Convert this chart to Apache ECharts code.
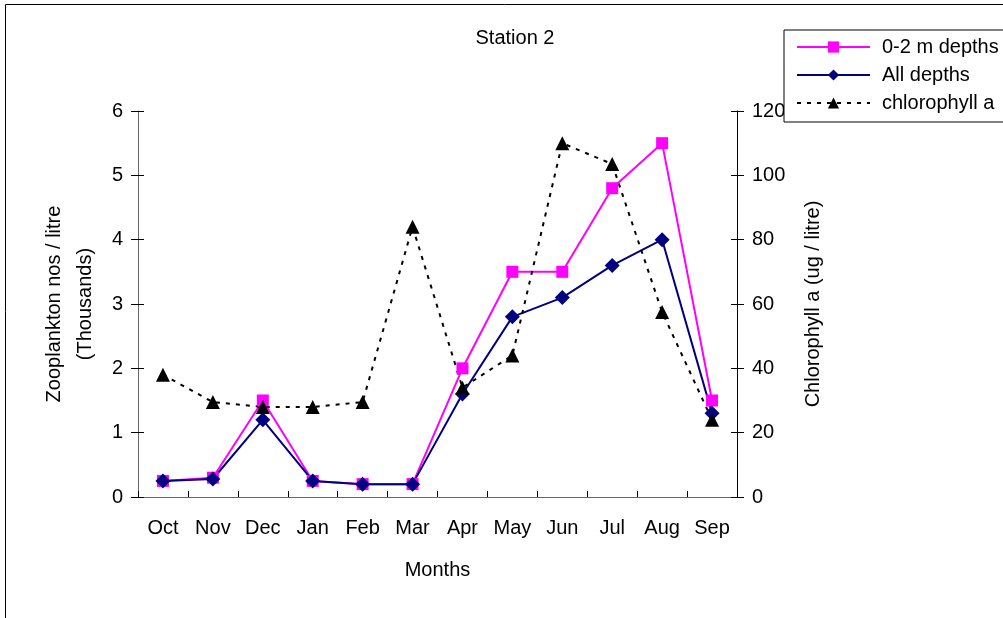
<!DOCTYPE html>
<html><head><meta charset="utf-8">
<script src="https://cdn.jsdelivr.net/npm/echarts@6/dist/echarts.min.js"></script>
<style>html,body{margin:0;padding:0;background:#fff}#c{width:1003px;height:618px}</style>
</head><body><div id="c"></div>
<script>
var months = ['Oct','Nov','Dec','Jan','Feb','Mar','Apr','May','Jun','Jul','Aug','Sep'];
var surface = [0.25,0.3,1.5,0.25,0.2,0.2,2.0,3.5,3.5,4.8,5.5,1.5];
var allDepths = [0.25,0.28,1.2,0.25,0.2,0.2,1.6,2.8,3.1,3.6,4.0,1.3];
var chlorophyll = [38,29.5,28,28,29.5,84,34,44,110,103.5,57.5,24];
var leftTicks = [0,1,2,3,4,5,6];
var rightTicks = [0,20,40,60,80,100,120];

var F = 'Liberation Sans, Arial, sans-serif';
var FS = 20;
var chart = echarts.init(document.getElementById('c'));
function innerTicks(pos, min, max, interval) {
  return {type: 'value', min: min, max: max, interval: interval, position: pos,
    axisLine: {show: false}, splitLine: {show: false}, axisLabel: {show: false},
    axisTick: {show: true, inside: true, length: 6, lineStyle: {color: '#000'}}};
}
chart.setOption({
  animation: false,
  backgroundColor: '#fff',
  textStyle: {fontFamily: F, color: '#000'},
  title: {text: 'Station 2', left: 510, top: 23, textAlign: 'center',
    textStyle: {fontFamily: F, fontSize: FS, fontWeight: 'normal', color: '#000'}},
  graphic: [{type: 'rect', shape: {x: 5.5, y: 4.5, width: 1200, height: 800},
    style: {fill: 'none', stroke: '#000', lineWidth: 1}, z: -10}],
  legend: {
    orient: 'vertical', left: 784, top: 30,
    backgroundColor: '#fff', borderColor: '#000', borderWidth: 1,
    padding: [7, 40, 9, 12], itemGap: 8, itemWidth: 73, itemHeight: 14,
    textStyle: {fontFamily: F, fontSize: FS, color: '#000', padding: [0,0,0,7]},
    data: ['0-2 m depths','All depths','chlorophyll a']
  },
  grid: {left: 138, right: 266, top: 111, bottom: 121},
  xAxis: [{
    type: 'category', data: months, boundaryGap: true,
    name: 'Months', nameLocation: 'middle', nameGap: 63,
    nameTextStyle: {fontFamily: F, fontSize: FS, color: '#000'},
    axisLine: {lineStyle: {color: '#666', width: 1}},
    axisTick: {length: 7, lineStyle: {color: '#000'}},
    axisLabel: {fontFamily: F, fontSize: FS, color: '#000', margin: 21}
  }, {
    type: 'category', data: months, boundaryGap: true, position: 'bottom',
    axisLine: {show: false}, axisLabel: {show: false},
    axisTick: {show: true, inside: true, length: 6, lineStyle: {color: '#000'}}
  }],
  yAxis: [{
    type: 'value', min: 0, max: 6, interval: 1,
    name: 'Zooplankton nos / litre\n(Thousands)', nameLocation: 'middle', nameRotate: 90, nameGap: 37,
    nameTextStyle: {fontFamily: F, fontSize: FS, color: '#000', lineHeight: 31},
    axisLine: {show: true, lineStyle: {color: '#666'}},
    axisTick: {show: true, length: 7, lineStyle: {color: '#000'}},
    splitLine: {show: false},
    axisLabel: {fontFamily: F, fontSize: FS, color: '#000', margin: 15,
      formatter: function(v){ return leftTicks.indexOf(v) >= 0 ? String(v) : ''; }}
  }, {
    type: 'value', min: 0, max: 120, interval: 20, position: 'right',
    name: 'Chlorophyll a (ug / litre)', nameLocation: 'middle', nameRotate: 90, nameGap: 66,
    nameTextStyle: {fontFamily: F, fontSize: FS, color: '#000'},
    axisLine: {show: true, lineStyle: {color: '#000'}},
    axisTick: {show: true, length: 7, lineStyle: {color: '#000'}},
    splitLine: {show: false},
    axisLabel: {fontFamily: F, fontSize: FS, color: '#000', margin: 15,
      formatter: function(v){ return rightTicks.indexOf(v) >= 0 ? String(v) : ''; }}
  }, innerTicks('left', 0, 6, 1), innerTicks('right', 0, 120, 20)],
  series: [{
    name: '0-2 m depths', type: 'line', yAxisIndex: 0, data: surface,
    symbol: 'rect', symbolSize: 12, showAllSymbol: true,
    lineStyle: {color: '#FF00FF', width: 2}, itemStyle: {color: '#FF00FF'}
  }, {
    name: 'All depths', type: 'line', yAxisIndex: 0, data: allDepths,
    symbol: 'diamond', symbolSize: 15, showAllSymbol: true,
    lineStyle: {color: '#000080', width: 2}, itemStyle: {color: '#000080'}
  }, {
    name: 'chlorophyll a', type: 'line', yAxisIndex: 1, data: chlorophyll,
    symbol: 'triangle', symbolSize: 14, showAllSymbol: true,
    lineStyle: {color: '#000', width: 2, type: [4, 6]}, itemStyle: {color: '#000'}
  }]
});
</script></body></html>
